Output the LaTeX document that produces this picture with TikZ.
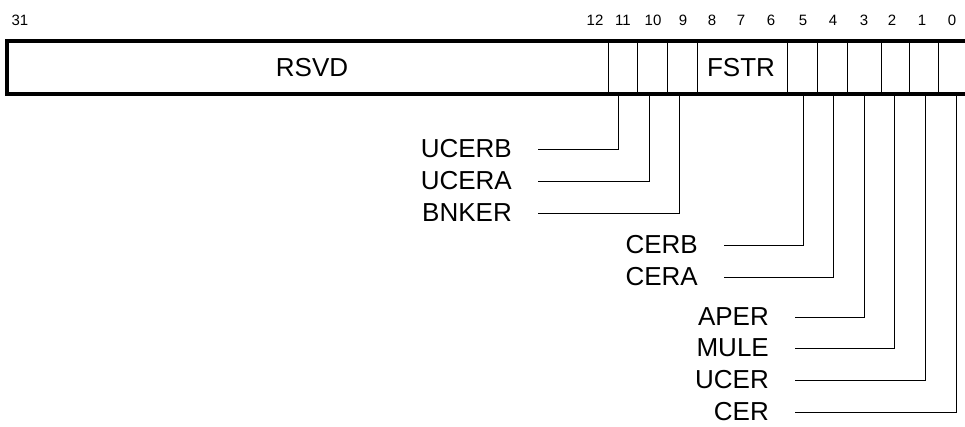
\documentclass[tikz,border=0pt]{standalone}
\usepackage{fontspec}
\setmainfont{Liberation Sans}
\begin{document}
\begin{tikzpicture}[x=1pt,y=-1pt,
  bitnum/.style={font=\fontsize{15}{17}\selectfont},
  field/.style={font=\fontsize{26}{30}\selectfont},
  flag/.style={font=\fontsize{26}{30}\selectfont, anchor=east, inner xsep=26pt, inner ysep=0pt},
  leader/.style={line width=1pt}]
\useasboundingbox (0,0) rectangle (965,426);
% bit numbers
\foreach \b/\x in {31/20,12/595,11/623,10/653,9/683,8/712,7/741,6/771,5/803,4/833,3/864,2/892,1/922,0/952}
  \node[bitnum] (n\b) at (\x,20) {\b};
% register outline and cell borders
\draw[line width=4pt] (7,41) rectangle (975,94);
\foreach \x in {608,637,667,697,787,817,847,881,909,938}
  \draw[line width=1pt] (\x,41) -- (\x,94);
\node[field] (rsvd) at (312,68) {RSVD};
\node[field] (fstr) at (741,68) {FSTR};
% leader start points
\foreach \b/\x in {11/618,10/649,9/679,5/803,4/833,3/864,2/894,1/925,0/956}
  \coordinate (b\b) at (\x,94);
% flag names
\node[flag] (ucerb) at (538,149) {UCERB};
\node[flag] (ucera) at (538,181) {UCERA};
\node[flag] (bnker) at (538,213) {BNKER};
\node[flag] (cerb) at (724,245) {CERB};
\node[flag] (cera) at (724,277) {CERA};
\node[flag] (aper) at (795,317) {APER};
\node[flag] (mule) at (795,348) {MULE};
\node[flag] (ucer) at (795,380) {UCER};
\node[flag] (cer) at (795,412) {CER};
\draw[leader] (ucerb.east) -| (b11);
\draw[leader] (ucera.east) -| (b10);
\draw[leader] (bnker.east) -| (b9);
\draw[leader] (cerb.east) -| (b5);
\draw[leader] (cera.east) -| (b4);
\draw[leader] (aper.east) -| (b3);
\draw[leader] (mule.east) -| (b2);
\draw[leader] (ucer.east) -| (b1);
\draw[leader] (cer.east) -| (b0);
\end{tikzpicture}
\end{document}
